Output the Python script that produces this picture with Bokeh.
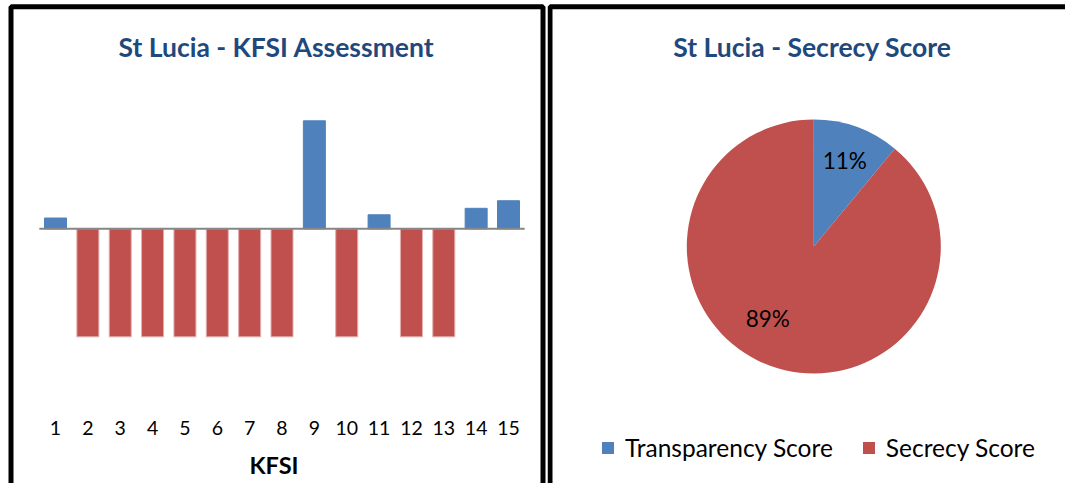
import numpy as np
from bokeh.plotting import figure
from bokeh.models import (ColumnDataSource, Range1d, BoxAnnotation, Legend, LegendItem,
                          Label, FixedTicker)
from bokeh.layouts import row
from bokeh.embed import file_html
from bokeh.resources import INLINE
from bokeh.core.properties import value

# ---------------- data ----------------
kfsi_labels = [str(i) for i in range(1, 16)]
kfsi_values = [0.10, -1, -1, -1, -1, -1, -1, -1, 1.0, -1, 0.13, -1, -1, 0.19, 0.26]

pie_labels = ["Transparency Score", "Secrecy Score"]
pie_values = [11, 89]

# ---------------- styles ----------------
BLUE = "#4F81BD"
RED = "#C0504D"
RED_EDGE = "#E3AEAD"
TITLE_COLOR = "#1F497D"
AXIS_GRAY = "#868686"
FONT = "Lato"

# ---------------- left: KFSI bars ----------------
L_W, L_H = 547, 483
L_XR = (-0.700, 16.205)
L_YR = (-2.358, 2.114)


def lx(px):
    return L_XR[0] + px / L_W * (L_XR[1] - L_XR[0])


def ly(py):
    return L_YR[1] - py / L_H * (L_YR[1] - L_YR[0])


xpos = [int(k) for k in kfsi_labels]
bar_colors = [BLUE if v > 0 else RED for v in kfsi_values]
edge_colors = [BLUE if v > 0 else RED_EDGE for v in kfsi_values]
src = ColumnDataSource(dict(x=xpos, v=kfsi_values, c=bar_colors, lc=edge_colors))

p1 = figure(width=L_W, height=L_H, x_range=Range1d(*L_XR), y_range=Range1d(*L_YR),
            output_backend="svg", toolbar_location=None, min_border=0,
            outline_line_color=None, y_axis_location=None,
            background_fill_color="white", border_fill_color="white")
p1.grid.visible = False
p1.vbar(x="x", top="v", bottom=0, width=0.68, fill_color="c", line_color="lc",
        line_width=1, source=src)
# category axis line crossing at zero
p1.segment(x0=[min(xpos) - 0.5], x1=[max(xpos) + 0.5], y0=[0], y1=[0],
           line_color=AXIS_GRAY, line_width=2)

ax = p1.xaxis[0]
ax.fixed_location = ly(420)
ax.ticker = FixedTicker(ticks=xpos)
ax.major_label_overrides = {x: lab for x, lab in zip(xpos, kfsi_labels)}
ax.axis_line_color = None
ax.major_tick_line_color = None
ax.minor_tick_line_color = None
ax.major_tick_out = 0
ax.major_tick_in = 0
ax.major_label_standoff = 0
ax.major_label_text_font = FONT
ax.major_label_text_font_size = "19.5px"
ax.major_label_text_color = "black"
ax.axis_label = "KFSI"
ax.axis_label_standoff = 13
ax.axis_label_text_font = FONT
ax.axis_label_text_font_size = "23.5px"
ax.axis_label_text_font_style = "bold"
ax.axis_label_text_color = "black"

p1.add_layout(Label(x=lx(276), y=ly(46), text="St Lucia - KFSI Assessment",
                    text_align="center", text_baseline="middle", text_font=FONT,
                    text_font_size="26.5px", text_font_style="bold",
                    text_color=TITLE_COLOR))
p1.add_layout(BoxAnnotation(left=lx(10.5), right=lx(542.5), top=ly(6.3), bottom=ly(520),
                            fill_alpha=0, line_color="black", line_alpha=1.0,
                            line_width=5, level="overlay"))

# ---------------- right: pie ----------------
R_W, R_H = 518, 483
CX, CY = 266.3, 246.0  # pie centre in canvas px
R_XR = (-CX, R_W - CX)
R_YR = (-(R_H - CY), CY)

total = float(sum(pie_values))
fracs = [v / total for v in pie_values]
cum = np.cumsum([0] + fracs)
starts = [np.pi / 2 - 2 * np.pi * cum[i + 1] for i in range(len(fracs))]
ends = [np.pi / 2 - 2 * np.pi * cum[i] for i in range(len(fracs))]
mids = [(s + e) / 2 for s, e in zip(starts, ends)]
R = 127
LR = 0.72 * R
pie_src = ColumnDataSource(dict(
    name=pie_labels, s=starts, e=ends, color=[BLUE, RED],
    tx=[LR * np.cos(m) for m in mids], ty=[LR * np.sin(m) for m in mids],
    txt=["%d%%" % round(f * 100) for f in fracs],
    dx=[0, -15], dy=[0, -14],
))

p2 = figure(width=R_W, height=R_H, x_range=Range1d(*R_XR), y_range=Range1d(*R_YR),
            output_backend="svg", toolbar_location=None, min_border=0,
            outline_line_color=None, x_axis_location=None, y_axis_location=None,
            background_fill_color="white", border_fill_color="white")
p2.grid.visible = False
w = p2.wedge(x=0, y=0, radius=R, start_angle="s", end_angle="e", fill_color="color",
             line_color=None, source=pie_src)
p2.text(x="tx", y="ty", text="txt", x_offset="dx", y_offset="dy", source=pie_src,
        text_align="center", text_baseline="middle", text_font=value(FONT),
        text_font_size="22.5px", text_color="black")

legend = Legend(items=[LegendItem(label=pie_labels[0], renderers=[w], index=0),
                       LegendItem(label=pie_labels[1], renderers=[w], index=1)],
                orientation="horizontal", location=(53, 21), padding=0, margin=0,
                spacing=28, label_standoff=10, glyph_width=15, glyph_height=15,
                border_line_color=None, background_fill_alpha=0,
                label_text_font=FONT, label_text_font_size="24.5px",
                label_text_color="black")
p2.add_layout(legend)

p2.add_layout(Label(x=812 - 547 - CX, y=CY - 46, text="St Lucia - Secrecy Score",
                    text_align="center", text_baseline="middle", text_font=FONT,
                    text_font_size="26.5px", text_font_style="bold",
                    text_color=TITLE_COLOR))
p2.add_layout(BoxAnnotation(left=2.5 - CX, right=R_W + 20 - CX, top=CY - 6.3,
                            bottom=CY - 520, fill_alpha=0, line_color="black",
                            line_alpha=1.0, line_width=5, level="overlay"))

layout = row(p1, p2, spacing=0)
open("out.html", "w").write(file_html(layout, INLINE))
